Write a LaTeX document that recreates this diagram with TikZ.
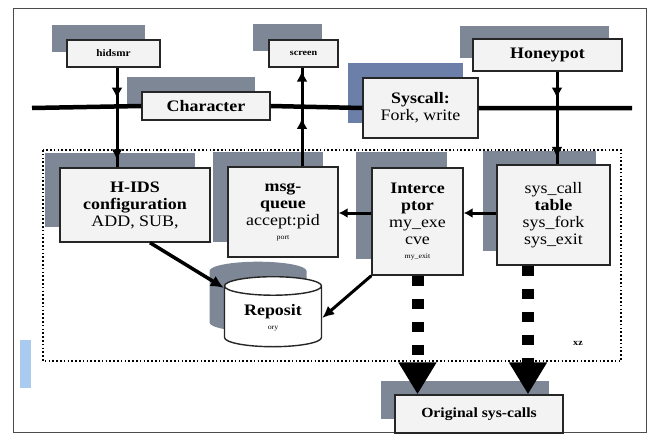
\documentclass[tikz,border=0pt]{standalone}
\usepackage{fontspec}
\setmainfont{Liberation Serif}[FakeStretch=1.12]
\usetikzlibrary{arrows.meta,shapes.geometric,shadows,decorations.markings}

\definecolor{shade}{HTML}{7D8795}
\definecolor{shadeblue}{HTML}{6B7FA8}
\definecolor{boxfill}{HTML}{F3F3F3}
\definecolor{barblue}{HTML}{A9CBEF}

\newcommand{\cutline}[1]{{\fontsize{7}{7}\selectfont #1}}

\tikzset{
  block/.style={draw=black!85,line width=1.4pt,fill=boxfill,align=center,inner sep=2pt,
    font=\fontsize{16}{17}\selectfont},
  shadowed/.style={copy shadow={shadow xshift=-#1pt,shadow yshift=#1pt,draw=none,fill=shade}},
  shadowed/.default=15,
  link/.style={line width=3pt},
  twotips/.style 2 args={postaction={decorate},decoration={markings,
    mark=at position #1 with {\arrow{Latex[length=11pt,width=11pt]}},
    mark=at position #2 with {\arrow{Latex[length=11pt,width=11pt]}}}},
  bigdash/.style={line width=12pt,dash pattern=on 10pt off 13pt,
    -{Triangle[length=32pt,width=36pt]}}
}

\begin{document}
\begin{tikzpicture}[x=1pt,y=-1pt]
  \useasboundingbox (0,0) rectangle (651,439);
  \draw[line width=1pt,black!70] (13,8) rectangle (646,432);
  \fill[barblue] (20,340) rectangle (31,388);

  % kernel side
  \draw[line width=1.8pt,dash pattern=on 1.6pt off 2.2pt] (43,150) rectangle (621,361);

  % user side
  \node[block,shadowed,minimum width=93pt,minimum height=27pt,font=\fontsize{10}{10}\selectfont\bfseries] (hidsmr) at (113.5,53.5) {hidsmr};
  \node[block,shadowed=16,minimum width=69pt,minimum height=27pt,font=\fontsize{9}{9}\selectfont\bfseries] (screen) at (303.5,53.5) {screen};
  \node[block,shadowed,minimum width=128pt,minimum height=28pt,font=\fontsize{16}{17}\selectfont\bfseries] (char) at (206,106) {Character};
  \node[block,copy shadow={shadow xshift=-15pt,shadow yshift=15pt,draw=none,fill=shadeblue},
    minimum width=115pt,minimum height=60pt] (syscall) at (420.5,108) {\textbf{Syscall:}\\Fork, write};
  \node[block,shadowed=13,minimum width=149pt,minimum height=32pt,font=\fontsize{16}{17}\selectfont\bfseries] (honey) at (547.5,55) {Honeypot};

  \node[block,shadowed,minimum width=150pt,minimum height=74pt] (hids) at (135,205)
    {\textbf{H-IDS}\\\textbf{configuration}\\ADD, SUB,};
  \node[block,shadowed,minimum width=110pt,minimum height=90pt] (msgq) at (283,212)
    {\textbf{msg-}\\\textbf{queue}\\accept:pid\\[-3pt]\cutline{port}};
  \node[block,shadowed=16,minimum width=91pt,minimum height=107pt] (inter) at (417.5,221.5)
    {\textbf{Interce}\\\textbf{ptor}\\my\_exe\\cve\\[-3pt]\cutline{my\_exit}};
  \node[block,shadowed=14,minimum width=113pt,minimum height=100pt] (sctable) at (553.5,215)
    {sys\_call\\\textbf{table}\\sys\_fork\\sys\_exit};

  \node[block,cylinder,shape border rotate=90,aspect=0.3,minimum width=97pt,minimum height=70pt,
    shadowed,fill=white] (repo) at (273,318) {\textbf{Reposit}\\[-3pt]\cutline{ory}};

  \node[block,shadowed=14,minimum width=168pt,minimum height=38pt,font=\fontsize{14}{15}\selectfont\bfseries] (orig) at (479,414) {Original sys-calls};

  \node[font=\fontsize{9}{9}\selectfont\bfseries] (xz) at (578,343) {xz};

  % bus
  \coordinate (busL) at (32,108);
  \coordinate (busR) at (632,108);
  \draw[line width=4.5pt] (busL) -- (char.west) (char.east) -- (syscall.west) (syscall.east) -- (busR);

  \draw[link,twotips={0.31}{0.93}] ([xshift=3.5pt]hidsmr.south) -- ([xshift=3.5pt]hidsmr.south |- hids.north);
  \draw[link,twotips={0.49}{0.97}] ([xshift=19pt]msgq.north) -- ([xshift=19pt]msgq.north |- screen.south);
  \draw[link,twotips={0.29}{0.93}] ([xshift=9.5pt]honey.south) -- ([xshift=9.5pt]honey.south |- sctable.north);

  \draw[link,-{Latex[length=9pt,width=10pt]}] (sctable.west |- 0,213) -- (inter.east |- 0,213);
  \draw[link,-{Latex[length=9pt,width=10pt]}] (inter.west |- 0,213) -- (msgq.east |- 0,213);

  \draw[line width=3.5pt,-{Latex[length=13pt,width=12pt]}] ([xshift=15pt]hids.south) -- (repo);
  \draw[line width=3pt,-{Latex[length=12pt,width=11pt]}] (inter.south west) -- (repo.east);

  \draw[bigdash] (inter.south) -- (inter.south |- orig.north);
  \draw[bigdash] ([xshift=-25.5pt]sctable.south) -- ([xshift=-25.5pt]sctable.south |- orig.north);
\end{tikzpicture}
\end{document}
